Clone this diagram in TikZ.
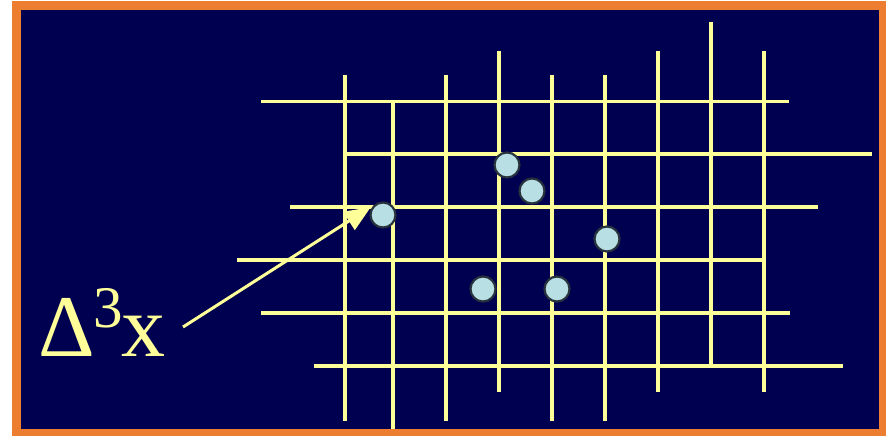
\documentclass[tikz,border=0pt]{standalone}
\usepackage{fontspec}
\setmainfont{Liberation Serif}
\usetikzlibrary{arrows.meta}
\definecolor{navy}{RGB}{0,0,80}
\definecolor{frameorange}{RGB}{237,125,49}
\definecolor{gridyellow}{RGB}{255,255,153}
\definecolor{dotfill}{RGB}{184,224,228}
\definecolor{dotedge}{RGB}{40,50,60}
\begin{document}
\begin{tikzpicture}[x=1pt,y=-1pt,
  gridline/.style={gridyellow,line width=3.6pt},
  dot/.style={circle,fill=dotfill,draw=dotedge,line width=2.2pt,minimum size=25pt,inner sep=0pt},
  pointer/.style={gridyellow,line width=3pt,-{Triangle[length=26pt,width=21pt]}},
  labeltext/.style={anchor=base west,inner sep=0pt,text=gridyellow}]
\useasboundingbox (0,0) rectangle (886,436);
\fill[white] (0,0) rectangle (886,436);
\fill[frameorange] (12,1) rectangle (886,436);
\fill[navy] (21,10) rectangle (878.5,428.5);
% vertical grid lines
\foreach \x/\a/\b in {345/75/421, 393/101/429, 446/75/421, 499/51/392, 552/75/421, 605/75/421, 658/51/392, 711/22/366, 764/51/392}
  \draw[gridline] (\x,\a) -- (\x,\b);
% horizontal grid lines
\foreach \y/\a/\b in {101.3/261/789, 153.7/345/872, 207/290/818, 259.7/237/766, 312.7/261/790, 365.7/314/843}
  \draw[gridline] (\a,\y) -- (\b,\y);
% points
\node[dot] (p1) at (383,215) {};
\node[dot] (p2) at (507,165) {};
\node[dot] (p3) at (532,191) {};
\node[dot] (p4) at (607,239) {};
\node[dot] (p5) at (483,289) {};
\node[dot] (p6) at (557,289) {};
% label and pointer
\node[labeltext] (lab) at (38,356) {\fontsize{88}{88}\selectfont Δ\kern-1pt\raisebox{29pt}{\fontsize{59}{59}\selectfont 3}\kern-2pt x};
\coordinate (tail) at (183,327);
\draw[pointer,shorten >=3pt] (tail) -- (p1.north west);
\end{tikzpicture}
\end{document}
